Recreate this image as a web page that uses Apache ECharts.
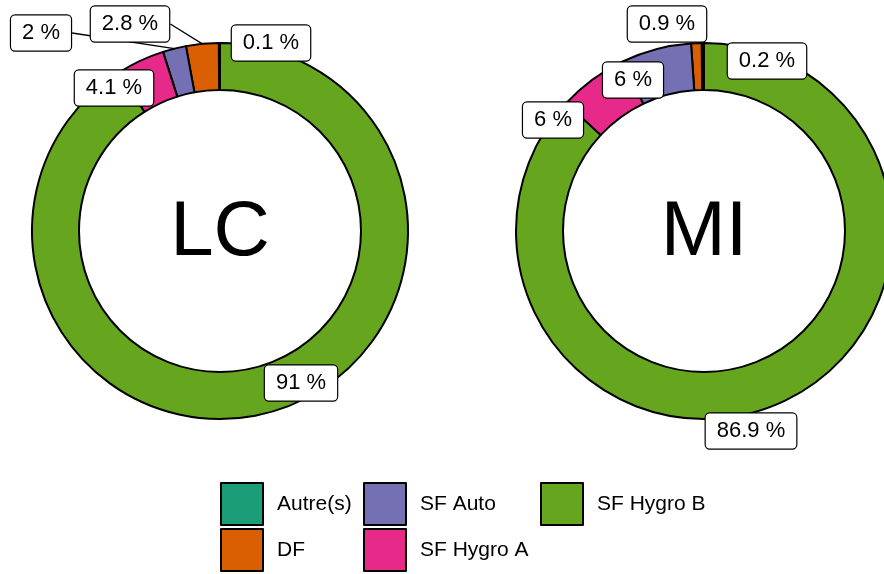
<!DOCTYPE html>
<html>
<head>
<meta charset="utf-8">
<script src="https://cdn.jsdelivr.net/npm/echarts@6/dist/echarts.min.js"></script>
<style>
html,body{margin:0;padding:0;background:#fff;}
#chart{width:884px;height:574px;}
</style>
</head>
<body>
<div id="chart"></div>
<script>
// categories and shares (%) per panel
var categories = ['Autre(s)', 'DF', 'SF Auto', 'SF Hygro A', 'SF Hygro B'];
var valuesLC = [0.1, 2.8, 2, 4.1, 91];
var valuesMI = [0.2, 0.9, 6, 6, 86.9];
var panels = ['LC', 'MI'];

var colors = ['#1B9E77', '#D95F02', '#7570B3', '#E7298A', '#66A61E'];
var font = 'Liberation Sans, Arial, sans-serif';
var centers = [[220, 231], [704, 231]];
// where the repelled labels sit, and which ones keep a leader line
var labelSpots = [
    [[271, 43], [130, 24], [41, 33], [114, 88], [301, 383]],
    [[767, 61], [667, 24], [633, 80], [553, 120], [751, 431]]
];
var leaderOn = [
    [false, true, true, false, false],
    [true, false, false, true, false]
];

var myChart = echarts.init(document.getElementById('chart'));

function makePie(idx, values){
    return {
        type:'pie',
        name:panels[idx],
        center:centers[idx],
        radius:[141, 188],
        startAngle:90,
        clockwise:false,
        avoidLabelOverlap:false,
        animation:false,
        itemStyle:{
            borderColor:'#000',
            borderWidth:2,
        },
        label:{
            show:true,
            position:'outside',
            formatter:function(p){ return p.value + ' %'; },
            fontFamily:font,
            fontSize:22,
            color:'#000',
            backgroundColor:'#fff',
            borderColor:'#000',
            borderWidth:1.2,
            borderRadius:4,
            padding:[6, 11, 5, 11],
            lineHeight:24,
        },
        labelLine:{
            show:true,
            length:10,
            length2:0,
            lineStyle:{color:'#000', width:1.3},
        },
        labelLayout:function(p){
            var s = labelSpots[idx][p.dataIndex];
            return {x:s[0], y:s[1], align:'center', verticalAlign:'middle'};
        },
        emphasis:{disabled:true},
        data:categories.map(function(c, i){
            return {name:c, value:values[i], labelLine:{show:leaderOn[idx][i]}};
        }),
    };
}

function makeLegend(names, left){
    return {
        data:names,
        orient:'vertical',
        left:left,
        top:482,
        padding:0,
        itemWidth:42,
        itemHeight:42,
        itemGap:2,
        icon:'rect',
        selectedMode:false,
        itemStyle:{borderColor:'#000', borderWidth:2},
        textStyle:{
            fontFamily:font,
            fontSize:21,
            color:'#000',
            padding:[0, 0, 0, 9],
        },
    };
}

var option = {
    backgroundColor:'#fff',
    color:colors,
    legend:[
        makeLegend(['Autre(s)', 'DF'], 220),
        makeLegend(['SF Auto', 'SF Hygro A'], 363),
        makeLegend(['SF Hygro B'], 540),
    ],
    graphic:panels.map(function(p, i){
        return {
            type:'text',
            x:centers[i][0],
            y:centers[i][1] + 2,
            z:100,
            style:{
                text:p,
                fontFamily:font,
                fontSize:78,
                fill:'#000',
                align:'center',
                verticalAlign:'middle',
            },
        };
    }),
    series:[
        makePie(0, valuesLC),
        makePie(1, valuesMI),
    ],
};

myChart.setOption(option);
</script>
</body>
</html>
